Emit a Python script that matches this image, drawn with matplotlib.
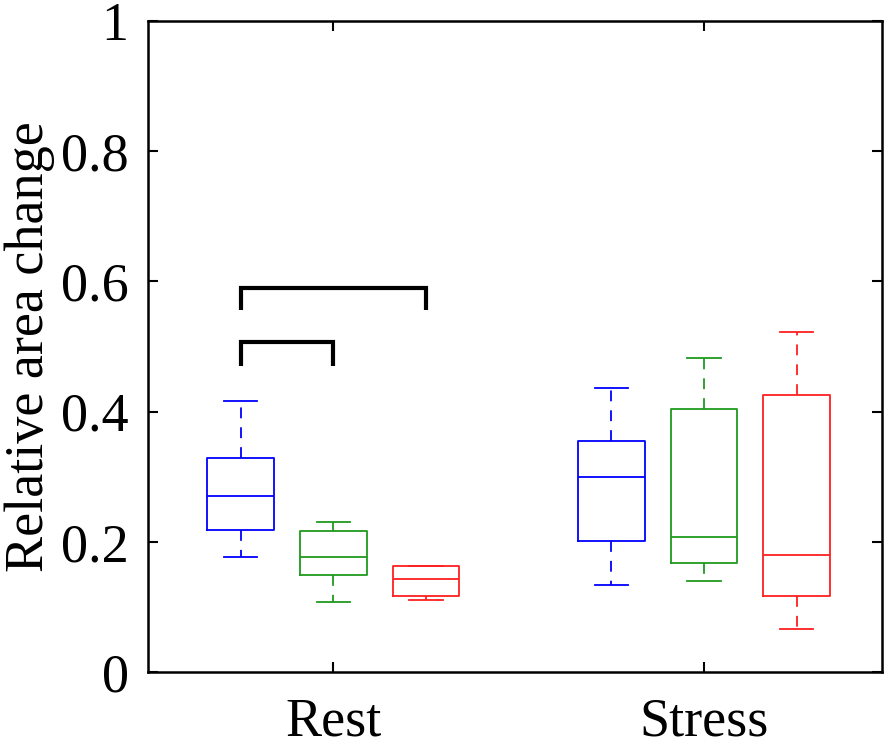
import matplotlib
matplotlib.use("Agg")
import matplotlib.pyplot as plt

# ---- data ----
groups = ["Rest", "Stress"]
series_colors = ["#0000ff", "#1f9a1f", "#ff2020"]
offsets = [-0.25, 0.0, 0.25]

# per box: lower whisker, q1, median, q3, upper whisker
rest_whislo = [0.176, 0.107, 0.110]
rest_q1     = [0.218, 0.149, 0.117]
rest_med    = [0.271, 0.176, 0.143]
rest_q3     = [0.329, 0.217, 0.163]
rest_whishi = [0.416, 0.230, 0.163]

stress_whislo = [0.133, 0.140, 0.066]
stress_q1     = [0.2015, 0.168, 0.116]
stress_med    = [0.299, 0.207, 0.180]
stress_q3     = [0.355, 0.404, 0.426]
stress_whishi = [0.436, 0.483, 0.522]

# significance brackets: (left box index, right box index, top level, leg bottom)
brackets = [(0, 1, 0.507, 0.470), (0, 2, 0.590, 0.556)]

yticks = [0, 0.2, 0.4, 0.6, 0.8, 1]
ytick_labels = ["0", "0.2", "0.4", "0.6", "0.8", "1"]

plt.rcParams['font.family'] = ['Liberation Serif', 'DejaVu Serif']

fig = plt.figure(figsize=(8.94, 7.46), dpi=100)
ax = fig.add_axes([0.1655, 0.0992, 0.8211, 0.8728])

gdata = [
    (rest_whislo, rest_q1, rest_med, rest_q3, rest_whishi),
    (stress_whislo, stress_q1, stress_med, stress_q3, stress_whishi),
]

for gi, (wlo, q1, med, q3, whi) in enumerate(gdata):
    center = gi + 1
    for si in range(3):
        st = [dict(whislo=wlo[si], q1=q1[si], med=med[si], q3=q3[si],
                   whishi=whi[si], fliers=[])]
        c = series_colors[si]
        ax.bxp(st, positions=[center + offsets[si]], widths=0.18,
               capwidths=0.09, showfliers=False, manage_ticks=False,
               boxprops=dict(color=c, linewidth=1.3),
               medianprops=dict(color=c, linewidth=1.3),
               whiskerprops=dict(color=c, linewidth=1.3, linestyle=(0, (6, 5))),
               capprops=dict(color=c, linewidth=1.3))

for (a, b, top, bot) in brackets:
    xa = 1 + offsets[a]
    xb = 1 + offsets[b]
    ax.plot([xa, xa, xb, xb], [bot, top, top, bot], color='black',
            linewidth=3.0, solid_joinstyle='miter', solid_capstyle='butt')

ax.set_xlim(0.5, 2.48)
ax.set_ylim(0, 1)
ax.set_xticks([1, 2])
ax.set_xticklabels(groups)
ax.set_yticks(yticks)
ax.set_yticklabels(ytick_labels)
ax.tick_params(axis='both', direction='in', length=7, width=1.5,
               labelsize=39, top=True, right=True)
ax.tick_params(axis='x', pad=18)
ax.tick_params(axis='y', pad=14)
for s in ax.spines.values():
    s.set_linewidth(1.8)
ax.set_ylabel("Relative area change", fontsize=39, labelpad=4)

fig.savefig("out.png", dpi=100)
